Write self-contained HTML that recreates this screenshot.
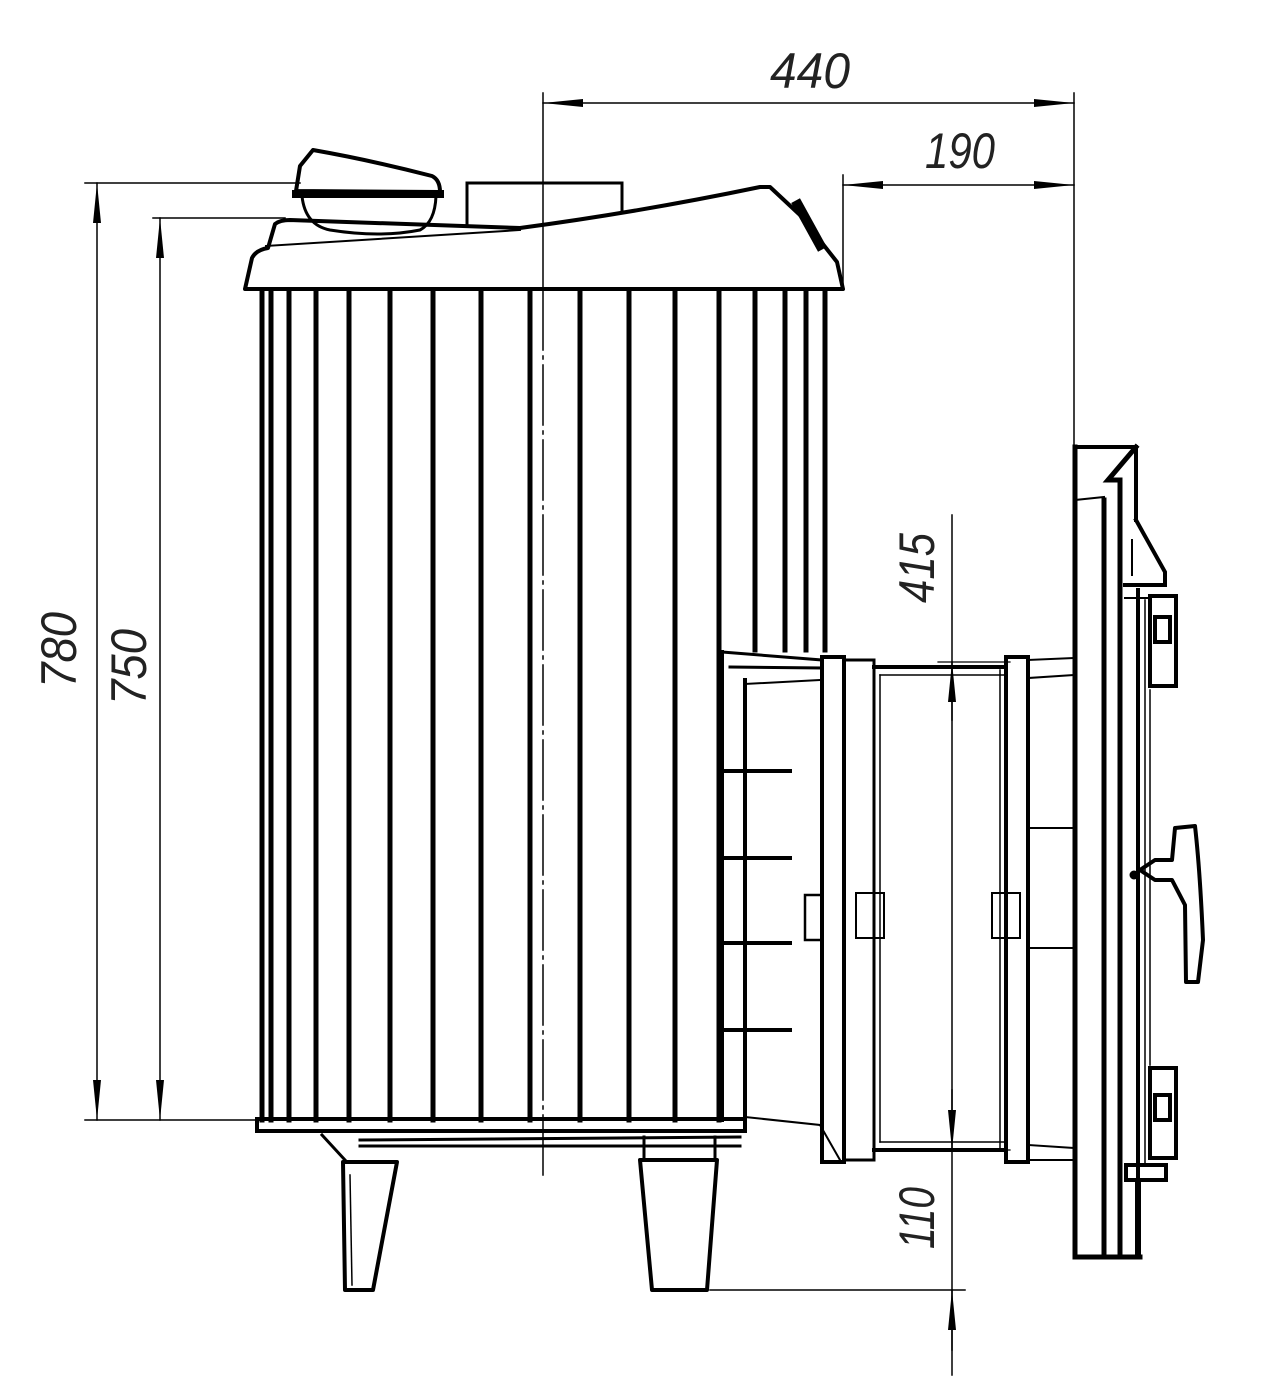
<!DOCTYPE html>
<html><head><meta charset="utf-8"><style>
html,body{margin:0;padding:0;background:#fff;}
svg{display:block;}
text{font-family:"Liberation Sans",sans-serif;font-style:italic;fill:#222;}
</style></head><body>
<svg width="1280" height="1396" viewBox="0 0 1280 1396" xmlns="http://www.w3.org/2000/svg">
<defs>
<marker id="a" viewBox="0 0 40 10" refX="40" refY="5" markerWidth="40" markerHeight="10" markerUnits="userSpaceOnUse" orient="auto-start-reverse"><path d="M0,1 L40,5 L0,9 z" fill="#000"/></marker>
</defs>
<g stroke="#000" fill="none" stroke-linecap="square">
<line x1="543" y1="93" x2="543" y2="290" stroke-width="1.5"/>
<line x1="1074" y1="93" x2="1074" y2="447" stroke-width="1.5"/>
<line x1="543" y1="103" x2="1074" y2="103" stroke-width="1.5" marker-start="url(#a)" marker-end="url(#a)"/>
<line x1="843" y1="175" x2="843" y2="290" stroke-width="1.5"/>
<line x1="843" y1="185" x2="1074" y2="185" stroke-width="1.5" marker-start="url(#a)" marker-end="url(#a)"/>
<line x1="85" y1="183" x2="300" y2="183" stroke-width="1.5"/>
<line x1="85" y1="1120" x2="258" y2="1120" stroke-width="1.5"/>
<line x1="97" y1="183" x2="97" y2="1120" stroke-width="1.5" marker-start="url(#a)" marker-end="url(#a)"/>
<line x1="153" y1="218" x2="285" y2="218" stroke-width="1.5"/>
<line x1="160" y1="218" x2="160" y2="1120" stroke-width="1.5" marker-start="url(#a)" marker-end="url(#a)"/>
<line x1="952" y1="515" x2="952" y2="1375" stroke-width="1.5"/>
<line x1="938" y1="662" x2="1010" y2="662" stroke-width="1.2"/>
<line x1="938" y1="1150" x2="1010" y2="1150" stroke-width="1.2"/>
<line x1="952" y1="720" x2="952" y2="662" stroke-width="1.5" marker-end="url(#a)"/>
<line x1="952" y1="1090" x2="952" y2="1150" stroke-width="1.5" marker-end="url(#a)"/>
<line x1="710" y1="1290" x2="965" y2="1290" stroke-width="1.5"/>
<line x1="952" y1="1350" x2="952" y2="1290" stroke-width="1.5" marker-end="url(#a)"/>

<line x1="543" y1="290" x2="543" y2="1180" stroke-width="1.5" stroke-dasharray="60,6,3,6"/>

<path d="M245,289 L252,258 Q256,250 268,248 L275,224 Q280,220 290,220 L520,228 Q640,212 760,187 L770,187 L800,215 L837,262 L843,289 Z" stroke-width="4" stroke-linejoin="round"/>
<path d="M266,246 L520,230" stroke-width="2"/>
<path d="M467,224 L467,183 L622,183 L622,211" stroke-width="3"/>
<path d="M296,191 L300,166 L313,150 Q370,160 432,176 Q440,180 440,192 Z" stroke-width="4" stroke-linejoin="round"/>
<line x1="296" y1="194" x2="440" y2="194" stroke-width="8"/>
<path d="M302,196 Q305,225 330,230 Q380,238 420,230 Q435,222 436,196" stroke-width="3"/>
<path d="M798,205 L820,245" stroke-width="10"/>

<g stroke-width="5">
<line x1="262" y1="292" x2="262" y2="1120"/><line x1="271" y1="292" x2="271" y2="1120"/>
<line x1="289" y1="292" x2="289" y2="1120"/><line x1="316" y1="292" x2="316" y2="1120"/>
<line x1="349" y1="292" x2="349" y2="1120"/><line x1="390" y1="292" x2="390" y2="1120"/>
<line x1="433" y1="292" x2="433" y2="1120"/><line x1="481" y1="292" x2="481" y2="1120"/>
<line x1="530" y1="292" x2="530" y2="1120"/><line x1="580" y1="292" x2="580" y2="1120"/>
<line x1="629" y1="292" x2="629" y2="1120"/><line x1="675" y1="292" x2="675" y2="1120"/>
<line x1="719" y1="292" x2="719" y2="1120"/>
<line x1="755" y1="292" x2="755" y2="650"/><line x1="785" y1="292" x2="785" y2="650"/>
<line x1="806" y1="292" x2="806" y2="650"/><line x1="825" y1="292" x2="825" y2="650"/>
</g>
<rect x="257" y="1119" width="488" height="12" stroke-width="4"/>
<path d="M322,1135 L345,1160 M360,1140 L740,1137 M360,1146 L740,1146" stroke-width="3"/>
<path d="M343,1162 L397,1162 L373,1290 L345,1290 Z" stroke-width="4" stroke-linejoin="round"/>
<path d="M350,1175 L352,1285" stroke-width="1.5"/>
<path d="M640,1160 L717,1160 L707,1290 L652,1290 Z" stroke-width="4" stroke-linejoin="round"/>
<path d="M644,1137 L644,1160 M715,1137 L715,1160" stroke-width="3"/>

<line x1="722" y1="652" x2="722" y2="1120" stroke-width="4"/>
<line x1="745" y1="680" x2="745" y2="1125" stroke-width="4"/>
<path d="M722,652 L822,660 M730,667 L822,668" stroke-width="3"/>
<g stroke-width="4">
<line x1="722" y1="771" x2="790" y2="771"/><line x1="722" y1="858" x2="790" y2="858"/>
<line x1="722" y1="943" x2="790" y2="943"/><line x1="722" y1="1030" x2="790" y2="1030"/>
</g>
<path d="M745,684 L820,680 M745,1117 L820,1125 L840,1160" stroke-width="2"/>
<rect x="822" y="657" width="22" height="505" stroke-width="4"/>
<rect x="844" y="660" width="30" height="500" stroke-width="3"/>
<rect x="805" y="895" width="17" height="45" stroke-width="2.5"/>
<rect x="856" y="893" width="28" height="45" stroke-width="2"/>
<line x1="874" y1="667" x2="1005" y2="667" stroke-width="4"/>
<line x1="874" y1="1150" x2="1005" y2="1150" stroke-width="4"/>
<line x1="880" y1="675" x2="1005" y2="675" stroke-width="1.5"/>
<line x1="880" y1="1142" x2="1005" y2="1142" stroke-width="1.5"/>
<line x1="880" y1="675" x2="880" y2="1142" stroke-width="1.5"/>
<rect x="1006" y="657" width="22" height="505" stroke-width="4"/>
<line x1="1000" y1="670" x2="1000" y2="1148" stroke-width="1.5"/>
<rect x="992" y="893" width="28" height="45" stroke-width="2"/>
<path d="M1028,660 L1074,658 M1028,678 L1074,675 M1028,828 L1074,828 M1028,948 L1074,948 M1028,1145 L1074,1148 M1028,1160 L1074,1160" stroke-width="2"/>

<path d="M1075,447 L1075,1257 L1140,1257" stroke-width="5"/>
<line x1="1075" y1="447" x2="1136" y2="447" stroke-width="4"/>
<path d="M1136,447 L1108,480 L1120,480 L1120,1257" stroke-width="5"/>
<path d="M1136,447 L1136,520" stroke-width="4"/>
<line x1="1104" y1="500" x2="1104" y2="1257" stroke-width="5"/>
<line x1="1075" y1="500" x2="1104" y2="497" stroke-width="2"/>
<path d="M1136,520 L1165,572 L1165,585 L1125,585" stroke-width="4"/>
<path d="M1132,540 L1132,575 M1125,598 L1150,598" stroke-width="2"/>
<line x1="1138" y1="590" x2="1138" y2="1240" stroke-width="4"/>
<line x1="1145" y1="600" x2="1145" y2="1165" stroke-width="1.5"/>
<line x1="1150" y1="690" x2="1150" y2="1065" stroke-width="1.5"/>
<rect x="1150" y="596" width="26" height="90" stroke-width="4"/>
<rect x="1155" y="617" width="15" height="25" stroke-width="4"/>
<rect x="1150" y="1068" width="26" height="90" stroke-width="4"/>
<rect x="1155" y="1095" width="15" height="25" stroke-width="4"/>
<rect x="1126" y="1165" width="40" height="15" stroke-width="4"/>
<line x1="1138" y1="1185" x2="1138" y2="1255" stroke-width="6"/>
<path d="M1140,870 L1155,860 L1172,860 L1175,828 L1195,826 Q1200,870 1203,940 L1198,982 L1186,982 L1185,905 L1172,880 L1155,880 Z" stroke-width="4" stroke-linejoin="round"/>
<circle cx="1134" cy="875" r="4" fill="#000"/>
</g>

<text x="810" y="88" font-size="50" text-anchor="middle" textLength="80" lengthAdjust="spacingAndGlyphs">440</text>
<text x="960" y="168" font-size="50" text-anchor="middle" textLength="70" lengthAdjust="spacingAndGlyphs">190</text>
<text transform="translate(76,650) rotate(-90)" font-size="50" text-anchor="middle" textLength="76" lengthAdjust="spacingAndGlyphs">780</text>
<text transform="translate(146,667) rotate(-90)" font-size="50" text-anchor="middle" textLength="76" lengthAdjust="spacingAndGlyphs">750</text>
<text transform="translate(934,568) rotate(-90)" font-size="50" text-anchor="middle" textLength="70" lengthAdjust="spacingAndGlyphs">415</text>
<text transform="translate(934,1218) rotate(-90)" font-size="50" text-anchor="middle" textLength="62" lengthAdjust="spacingAndGlyphs">110</text>
</svg>
</body></html>
